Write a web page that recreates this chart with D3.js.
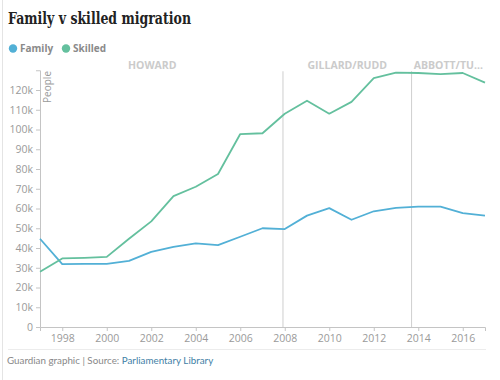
<!DOCTYPE html>
<html><head><meta charset="utf-8">
<script src="https://cdn.jsdelivr.net/npm/d3@7"></script>
<style>
body{margin:0;background:#fff;}
svg{display:block;}
</style></head>
<body><svg id="chart" width="500" height="380"></svg>
<script>
const years = [1997,1998,1999,2000,2001,2002,2003,2004,2005,2006,2007,2008,2009,2010,2011,2012,2013,2014,2015,2016,2017];
const family = [44.7,31.8,32.0,32.0,33.5,38.0,40.6,42.3,41.5,45.7,50.0,49.6,56.4,60.2,54.3,58.6,60.3,61.0,61.0,57.7,56.4].map(v=>v*1000);
const skilled = [28.0,34.7,35.0,35.5,44.7,53.5,66.3,71.0,77.5,97.7,98.1,108.0,114.6,108.0,114.0,126.0,128.8,128.6,128.0,128.6,123.7].map(v=>v*1000);
const seriesNames = ["Family","Skilled"];
const seriesColors = ["#52b0d6","#64c09e"];
const yTicks = [0,10000,20000,30000,40000,50000,60000,70000,80000,90000,100000,110000,120000];
const xTicks = [1998,2000,2002,2004,2006,2008,2010,2012,2014,2016];
const eraNames = ["HOWARD","GILLARD/RUDD","ABBOTT/TU..."];
const eraStarts = [1996.17,2007.92,2013.7];
const eraEnds = [2007.92,2013.7,2017];

const svg = d3.select("#chart");
const sans = "'Open Sans', 'DejaVu Sans', sans-serif";

const x = d3.scaleLinear().domain([1997,2017]).range([40,485]);
const y = d3.scaleLinear().domain([0,130000]).range([327,70.25]);

// left border line
svg.append("line").attr("x1",2.5).attr("x2",2.5).attr("y1",0).attr("y2",380).attr("stroke","#e4e4e4");

// title
svg.append("text").attr("x",8).attr("y",24)
  .attr("font-family","'DejaVu Serif', serif").attr("font-weight","bold")
  .attr("font-size",16.5).attr("fill","#222")
  .attr("textLength",183).attr("lengthAdjust","spacingAndGlyphs")
  .text("Family v skilled migration");

// legend
const legX = [13,66];
seriesNames.forEach((n,i)=>{
  svg.append("circle").attr("cx",legX[i]).attr("cy",48.5).attr("r",4.2).attr("fill",seriesColors[i]);
  svg.append("text").attr("x",legX[i]+7).attr("y",52).attr("font-family",sans).attr("font-weight","bold")
    .attr("font-size",10).attr("fill","#8a8a8a").text(n);
});

// era lines and labels
eraNames.forEach((n,i)=>{
  if(i>0){
    svg.append("line").attr("x1",x(eraStarts[i])).attr("x2",x(eraStarts[i]))
      .attr("y1",y(130000)+1).attr("y2",y(0)).attr("stroke","#cfcfcf").attr("stroke-width",1);
  }
  svg.append("text").attr("x",(x(eraStarts[i])+x(eraEnds[i]))/2).attr("y",69)
    .attr("text-anchor","middle").attr("font-family",sans).attr("font-weight","bold")
    .attr("font-size",10.5).attr("fill","#cbcbcb").text(n);
});

// axes
const yAxis = d3.axisLeft(y).tickValues(yTicks).tickSize(4).tickSizeOuter(4)
  .tickFormat(d=> d===0 ? "0" : (d/1000)+"k");
const gy = svg.append("g").attr("transform","translate(40,0)").call(yAxis);
const xAxis = d3.axisBottom(x).tickValues(xTicks).tickSize(4).tickSizeOuter(4).tickFormat(d3.format("d"));
const gx = svg.append("g").attr("transform","translate(0,327)").call(xAxis);
[gy,gx].forEach(g=>{
  g.selectAll("path,line").attr("stroke","#c4c4c4");
  g.selectAll("text").attr("font-family",sans).attr("font-size",10.5).attr("fill","#9a9a9a");
});
gy.selectAll("text").attr("x",-7);
gx.selectAll("text").attr("y",8);

// People label
svg.append("text").attr("transform","translate(51,71) rotate(-90)").attr("text-anchor","end")
  .attr("font-family",sans).attr("font-size",10).attr("fill","#9a9a9a").text("People");

// lines
const line = d3.line().x((d,i)=>x(years[i])).y(d=>y(d));
[family,skilled].forEach((s,i)=>{
  svg.append("path").datum(s).attr("d",line).attr("fill","none")
    .attr("stroke",seriesColors[i]).attr("stroke-width",1.8).attr("stroke-linejoin","round");
});

// footer
svg.append("line").attr("x1",8).attr("x2",486).attr("y1",349.5).attr("y2",349.5).attr("stroke","#ececec");
const ft = svg.append("text").attr("x",7).attr("y",364).attr("font-family","Lato, 'Open Sans', sans-serif").attr("font-size",9.8).attr("fill","#888");
ft.append("tspan").text("Guardian graphic | Source: ");
ft.append("tspan").attr("fill","#3f7fa6").text("Parliamentary Library");
</script></body></html>
